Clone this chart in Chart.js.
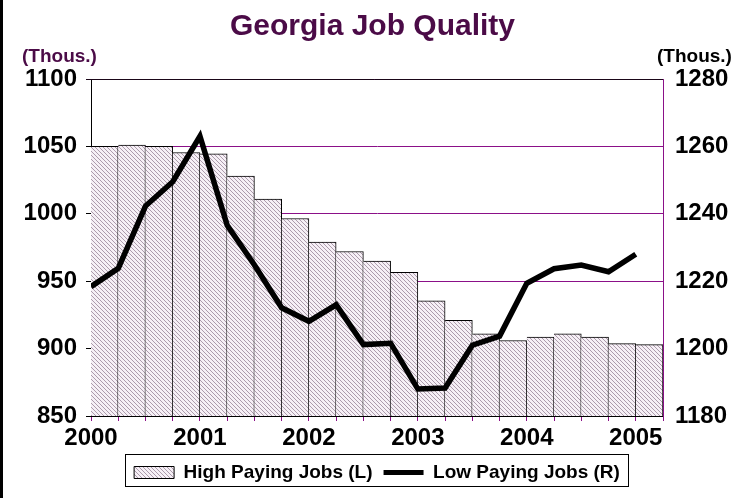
<!DOCTYPE html>
<html>
<head>
<meta charset="utf-8">
<script src="https://cdn.jsdelivr.net/npm/chart.js@4"></script>
<style>
  html, body { margin: 0; padding: 0; background: #fff; }
  #wrap { width: 745px; height: 498px; position: relative; }
</style>
</head>
<body>
<div id="wrap"><canvas id="jobsChart"></canvas></div>
<script>
// quarterly data, 2000 Q1 .. 2005 Q1
const categories = [
  "2000 Q1", "2000 Q2", "2000 Q3", "2000 Q4",
  "2001 Q1", "2001 Q2", "2001 Q3", "2001 Q4",
  "2002 Q1", "2002 Q2", "2002 Q3", "2002 Q4",
  "2003 Q1", "2003 Q2", "2003 Q3", "2003 Q4",
  "2004 Q1", "2004 Q2", "2004 Q3", "2004 Q4",
  "2005 Q1"
];
const highPaying = [
  1050, 1051, 1050, 1045.5, 1044.5, 1028, 1011, 996.5, 979, 972,
  965, 956.5, 935.5, 921, 911, 906, 908.5, 911, 908.5, 903.7, 903
];
const lowPaying = [
  1218.4, 1223.8, 1242.3, 1249.5, 1263, 1236.6, 1224.8, 1212.1, 1208.1, 1213,
  1201.2, 1201.6, 1188, 1188.3, 1201, 1203.7, 1219.4, 1223.7, 1224.8, 1222.8, 1228
];
const yearLabels = ["2000", "2001", "2002", "2003", "2004", "2005"];
const leftTicks = [850, 900, 950, 1000, 1050, 1100];
const rightTicks = [1180, 1200, 1220, 1240, 1260, 1280];
const seriesNames = ["High Paying Jobs (L)", "Low Paying Jobs (R)"];

const FONT = "'Liberation Sans', Arial, sans-serif";
const PURPLE = "#8b1088";
const TITLE_COLOR = "#4b0b47";

// diagonal hatch fill for the bars
function makeHatch() {
  const c = document.createElement("canvas");
  c.width = 4;
  c.height = 4;
  const g = c.getContext("2d");
  const img = g.createImageData(4, 4);
  for (let y = 0; y < 4; y++) {
    for (let x = 0; x < 4; x++) {
      const k = (y * 4 + x) * 4;
      const dark = (x - y + 4) % 4 === 0;
      img.data[k] = dark ? 172 : 246;
      img.data[k + 1] = dark ? 155 : 240;
      img.data[k + 2] = dark ? 172 : 246;
      img.data[k + 3] = 255;
    }
  }
  g.putImageData(img, 0, 0);
  return g.createPattern(c, "repeat");
}

// title extras, left frame edge, plot top edge and the legend frame
const decorations = {
  id: "decorations",
  beforeDraw(chart) {
    const ctx = chart.ctx;
    ctx.save();
    ctx.fillStyle = "#000";
    ctx.fillRect(0, 0, 3, chart.height);
    ctx.restore();
  },
  afterDraw(chart) {
    const ctx = chart.ctx;
    const area = chart.chartArea;
    ctx.save();
    ctx.strokeStyle = "#1a0618";
    ctx.lineWidth = 1;
    ctx.beginPath();
    ctx.moveTo(area.left - 5, Math.round(area.top) + 0.5);
    ctx.lineTo(area.right, Math.round(area.top) + 0.5);
    ctx.stroke();

    ctx.font = "bold 19px " + FONT;
    ctx.textBaseline = "alphabetic";
    ctx.fillStyle = TITLE_COLOR;
    ctx.textAlign = "left";
    ctx.fillText("(Thous.)", 22, 62);
    ctx.fillStyle = "#000";
    ctx.fillText("(Thous.)", area.right - 6, 62);

    const boxes = chart.legend.legendHitBoxes;
    if (boxes && boxes.length) {
      const first = boxes[0];
      const last = boxes[boxes.length - 1];
      const x0 = Math.round(first.left - 9) + 0.5;
      const x1 = Math.round(last.left + last.width + 8) + 0.5;
      const y0 = Math.round(first.top - 9) + 0.5;
      const y1 = Math.round(first.top + first.height + 4) + 0.5;
      ctx.strokeStyle = "#000";
      ctx.lineWidth = 1;
      ctx.strokeRect(x0, y0, x1 - x0, y1 - y0);
    }
    ctx.restore();
  }
};

Chart.defaults.font.family = FONT;
Chart.defaults.color = "#000";

const hatch = makeHatch();
const ctx = document.getElementById("jobsChart").getContext("2d");

new Chart(ctx, {
  type: "bar",
  data: {
    datasets: [
      {
        type: "line",
        label: seriesNames[1],
        data: lowPaying.map((v, i) => ({ x: i, y: v })),
        yAxisID: "y2",
        borderColor: "#000",
        backgroundColor: "#000",
        borderWidth: 5.5,
        pointRadius: 0,
        tension: 0,
        fill: false,
        order: 0
      },
      {
        type: "bar",
        label: seriesNames[0],
        data: highPaying.map((v, i) => ({ x: i + 0.5, y: v })),
        yAxisID: "y",
        backgroundColor: hatch,
        borderColor: "#000",
        borderWidth: { top: 1, right: 1, left: 0, bottom: 0 },
        borderSkipped: false,
        barPercentage: 1,
        categoryPercentage: 1,
        order: 1
      }
    ]
  },
  options: {
    responsive: true,
    maintainAspectRatio: false,
    animation: false,
    layout: { padding: { top: 0, left: 0, right: 0, bottom: 6 } },
    plugins: {
      title: {
        display: true,
        text: "Georgia Job Quality",
        color: TITLE_COLOR,
        font: { size: 30, weight: "bold" },
        padding: { top: 9, bottom: 34 }
      },
      legend: {
        position: "bottom",
        fullSize: false,
        reverse: true,
        labels: {
          usePointStyle: true,
          pointStyleWidth: 40,
          boxHeight: 12,
          padding: 11,
          color: "#000",
          font: { size: 19, weight: "bold" },
          generateLabels(chart) {
            const items = Chart.defaults.plugins.legend.labels.generateLabels(chart);
            items.forEach((it) => {
              if (it.datasetIndex === 1) {
                it.pointStyle = "rect";
                it.lineWidth = 1;
                it.strokeStyle = "#000";
              } else {
                it.pointStyle = "line";
                it.lineWidth = 5;
                it.strokeStyle = "#000";
              }
            });
            return items;
          }
        }
      },
      tooltip: { enabled: false }
    },
    scales: {
      x: {
        type: "linear",
        position: "bottom",
        offset: false,
        min: 0,
        max: categories.length,
        afterFit(scale) { scale.height = 36; },
        ticks: {
          stepSize: 1,
          autoSkip: false,
          maxRotation: 0,
          padding: 3,
          font: { size: 24, weight: "bold" },
          callback: (v) => (v % 4 === 0 && v / 4 < yearLabels.length ? yearLabels[v / 4] : "")
        },
        grid: {
          offset: false,
          color: "rgba(0,0,0,0)",
          drawOnChartArea: false,
          drawTicks: true,
          tickLength: 5,
          tickColor: PURPLE
        },
        border: { color: "#000", width: 1 }
      },
      y: {
        position: "left",
        min: leftTicks[0],
        max: leftTicks[leftTicks.length - 1],
        afterFit(scale) { scale.width = 91; },
        afterBuildTicks(scale) { scale.ticks = leftTicks.map((v) => ({ value: v })); },
        ticks: {
          padding: 9,
          font: { size: 24, weight: "bold" },
          callback: (v) => String(v)
        },
        grid: {
          color: PURPLE,
          lineWidth: 1,
          tickColor: "#000",
          tickLength: 5
        },
        border: { color: "#000", width: 1 }
      },
      y2: {
        position: "right",
        min: rightTicks[0],
        max: rightTicks[rightTicks.length - 1],
        afterFit(scale) { scale.width = 82; },
        afterBuildTicks(scale) { scale.ticks = rightTicks.map((v) => ({ value: v })); },
        ticks: {
          padding: 12,
          font: { size: 24, weight: "bold" },
          callback: (v) => String(v)
        },
        grid: { display: false, color: "rgba(0,0,0,0)", drawOnChartArea: false, drawTicks: false },
        border: { display: true, color: PURPLE, width: 1 }
      }
    }
  },
  plugins: [decorations]
});
</script>
</body>
</html>
